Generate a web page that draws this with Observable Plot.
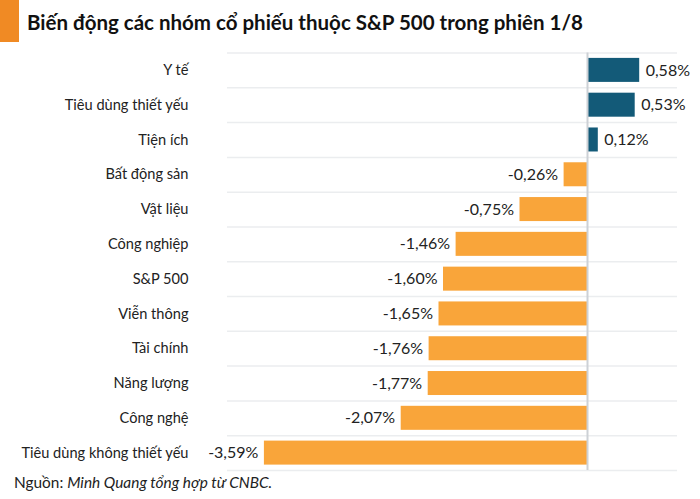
<!DOCTYPE html>
<html>
<head>
<meta charset="utf-8">
<script src="https://cdn.jsdelivr.net/npm/d3@7"></script>
<script src="https://cdn.jsdelivr.net/npm/@observablehq/plot@0.6"></script>
<style>
  body { margin: 0; background: #fff; font-family: Lato, "Noto Sans", sans-serif; }
  #wrap { width: 700px; height: 499px; position: relative; overflow: hidden; }
  #title { position: absolute; left: 0; top: 0; width: 700px; height: 44px; }
  #title .blk { position: absolute; left: 0; top: 0; width: 19px; height: 42px; background: #f08a24; }
  #title .txt { position: absolute; left: 27px; top: 10px; font-size: 20.5px; font-weight: 700; color: #111; white-space: nowrap; line-height: 1.2; }
  #chart { position: absolute; left: 0; top: 44px; }
  #chart svg { display: block; }
  #caption { position: absolute; left: 14px; top: 473px; font-size: 15.4px; color: #222; white-space: nowrap; }
  #caption i { font-style: italic; }
</style>
</head>
<body>
<div id="wrap">
  <div id="title"><div class="blk"></div><div class="txt">Biến động các nhóm cổ phiếu thuộc S&amp;P 500 trong phiên 1/8</div></div>
  <div id="chart"></div>
  <div id="caption">Nguồn: <i>Minh Quang tổng hợp từ CNBC.</i></div>
</div>
<script>
const categories = ["Y tế", "Tiêu dùng thiết yếu", "Tiện ích", "Bất động sản", "Vật liệu", "Công nghiệp", "S&P 500", "Viễn thông", "Tài chính", "Năng lượng", "Công nghệ", "Tiêu dùng không thiết yếu"];
const values = [0.58, 0.53, 0.12, -0.26, -0.75, -1.46, -1.60, -1.65, -1.76, -1.77, -2.07, -3.59];
const data = categories.map((c, i) => ({cat: c, v: values[i]}));

const marginTop = 8.5, marginBottom = 6, plotH = 417.5;
const height = marginTop + plotH + marginBottom;
const step = plotH / categories.length;
const fmt = v => d3.format(".2f")(v).replace("−", "-").replace(".", ",") + "%";

const chart = Plot.plot({
  width: 700,
  height,
  marginLeft: 227,
  marginRight: 23,
  marginTop,
  marginBottom,
  style: {fontFamily: "Lato, 'Noto Sans', sans-serif", color: "#222", background: "#fff"},
  x: {domain: [-4, 1], axis: null},
  y: {domain: categories, paddingInner: 0.31, paddingOuter: 0.155, round: false, label: null},
  marks: [
    Plot.ruleY(categories, {y: d => d, dy: -step / 2, x1: -4, x2: 1, stroke: "#ebedef", strokeWidth: 1.5}),
    Plot.ruleY([categories[categories.length - 1]], {y: d => d, dy: step / 2, x1: -4, x2: 1, stroke: "#ebedef", strokeWidth: 1.5}),
    Plot.barX(data, {y: "cat", x: "v", fill: d => d.v >= 0 ? "#135a78" : "#f9a53a"}),
    Plot.ruleX([0], {stroke: "#cdd1d6", strokeWidth: 2}),
    Plot.text(data.filter(d => d.v >= 0), {y: "cat", x: "v", text: d => fmt(d.v), textAnchor: "start", dx: 6, fontSize: 16, fill: "#222"}),
    Plot.text(data.filter(d => d.v < 0), {y: "cat", x: "v", text: d => fmt(d.v), textAnchor: "end", dx: -6, fontSize: 16, fill: "#222"}),
    Plot.axisY({tickSize: 0, tickPadding: 39, fontSize: 14.6, label: null})
  ]
});
document.getElementById("chart").appendChild(chart);
</script>
</body>
</html>
